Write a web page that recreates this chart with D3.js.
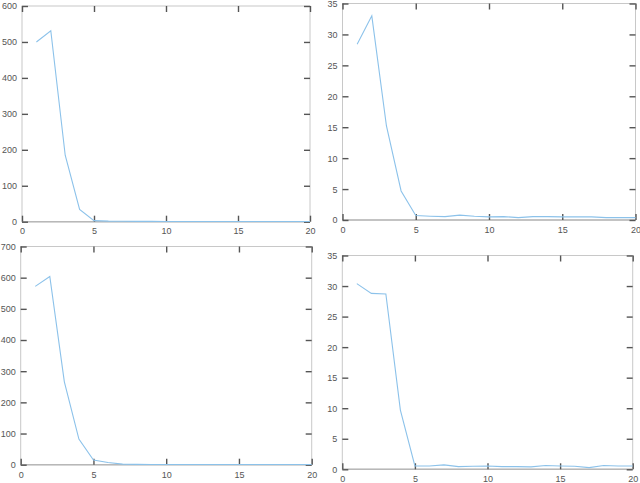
<!DOCTYPE html>
<html>
<head>
<meta charset="utf-8">
<script src="https://cdn.jsdelivr.net/npm/d3@7"></script>
<style>
  html, body { margin: 0; padding: 0; background: #fff; }
  svg { display: block; }
  .lbl { font-family: "Liberation Sans", Arial, sans-serif; font-size: 9px; fill: #555; }
</style>
</head>
<body>
<svg id="chart" width="640" height="483"></svg>
<script>
// x positions (iteration index)
const xValues = [1,2,3,4,5,6,7,8,9,10,11,12,13,14,15,16,17,18,19,20];

// series values per panel
const topLeftValues = [500, 531, 185, 34, 3, 1.5, 1.2, 1, 0.8, 0.7, 0.6, 0.6, 0.5, 0.5, 0.5, 0.5, 0.5, 0.5, 0.5, 0.5];
const topRightValues = [28.4, 33.0, 15.2, 4.7, 0.72, 0.61, 0.55, 0.78, 0.61, 0.5, 0.55, 0.39, 0.55, 0.55, 0.5, 0.5, 0.5, 0.39, 0.39, 0.39];
const bottomLeftValues = [572, 604, 266, 82, 15, 7, 2, 1, 0.8, 0.6, 0.5, 0.5, 0.5, 0.5, 0.5, 0.5, 0.5, 0.5, 0.5, 0.5];
const bottomRightValues = [30.4, 28.8, 28.7, 9.7, 0.55, 0.55, 0.72, 0.44, 0.5, 0.55, 0.44, 0.44, 0.39, 0.61, 0.55, 0.5, 0.28, 0.61, 0.55, 0.55];

// tick labels
const xTicks = [0, 5, 10, 15, 20];
const yTicksTopLeft = [0, 100, 200, 300, 400, 500, 600];
const yTicksTopRight = [0, 5, 10, 15, 20, 25, 30, 35];
const yTicksBottomLeft = [0, 100, 200, 300, 400, 500, 600, 700];
const yTicksBottomRight = [0, 5, 10, 15, 20, 25, 30, 35];

const panels = [
  { values: topLeftValues, yTicks: yTicksTopLeft, box: { l: 22, r: 310, t: 6, b: 221.7 }, xLabelDy: 12.5 },
  { values: topRightValues, yTicks: yTicksTopRight, box: { l: 342.5, r: 635.5, t: 3.5, b: 220 }, xLabelDy: 13 },
  { values: bottomLeftValues, yTicks: yTicksBottomLeft, box: { l: 20.7, r: 311.7, t: 246.5, b: 464.7 }, xLabelDy: 13.5 },
  { values: bottomRightValues, yTicks: yTicksBottomRight, box: { l: 342.3, r: 632.7, t: 255.5, b: 469.3 }, xLabelDy: 12.5 }
];

const svg = d3.select("#chart");
const tickLen = 6;

panels.forEach(p => {
  const { l, r, t, b } = p.box;
  const x = d3.scaleLinear().domain([xTicks[0], xTicks[xTicks.length - 1]]).range([l, r]);
  const y = d3.scaleLinear().domain([p.yTicks[0], p.yTicks[p.yTicks.length - 1]]).range([b, t]);
  const g = svg.append("g");

  // frame
  g.append("rect")
    .attr("x", l).attr("y", t).attr("width", r - l).attr("height", b - t)
    .attr("fill", "none").attr("stroke", "#c8c8c8").attr("stroke-width", 1);
  g.append("line").attr("x1", l).attr("x2", r).attr("y1", b).attr("y2", b)
    .attr("stroke", "#b8b8b8").attr("stroke-width", 1.5);

  // axes with inward ticks on all sides
  const axBottom = g.append("g").attr("transform", `translate(0,${b})`)
    .call(d3.axisBottom(x).tickValues(xTicks).tickSize(-tickLen).tickPadding(4).tickFormat(d3.format("d")));
  const axTop = g.append("g").attr("transform", `translate(0,${t})`)
    .call(d3.axisTop(x).tickValues(xTicks).tickSize(-tickLen).tickFormat(""));
  const axLeft = g.append("g").attr("transform", `translate(${l},0)`)
    .call(d3.axisLeft(y).tickValues(p.yTicks).tickSize(-tickLen).tickPadding(5).tickFormat(d3.format("d")));
  const axRight = g.append("g").attr("transform", `translate(${r},0)`)
    .call(d3.axisRight(y).tickValues(p.yTicks).tickSize(-tickLen).tickFormat(""));

  [axBottom, axTop, axLeft, axRight].forEach(a => {
    a.select(".domain").remove();
    a.selectAll(".tick line").attr("stroke", "#555").attr("stroke-width", 1.4);
    a.selectAll("text").attr("class", "lbl").attr("font-family", null).attr("font-size", null).attr("fill", null);
  });
  axBottom.selectAll("text").attr("y", p.xLabelDy).attr("dy", "0");
  axLeft.selectAll("text").attr("x", -5).attr("dy", "0.33em");

  // series line
  const pts = xValues.map((xv, i) => [xv, p.values[i]]);
  g.append("path")
    .datum(pts)
    .attr("fill", "none")
    .attr("stroke", "#8cc2ea")
    .attr("stroke-width", 1.1)
    .attr("d", d3.line().x(d => x(d[0])).y(d => y(d[1])));
});
</script>
</body>
</html>
